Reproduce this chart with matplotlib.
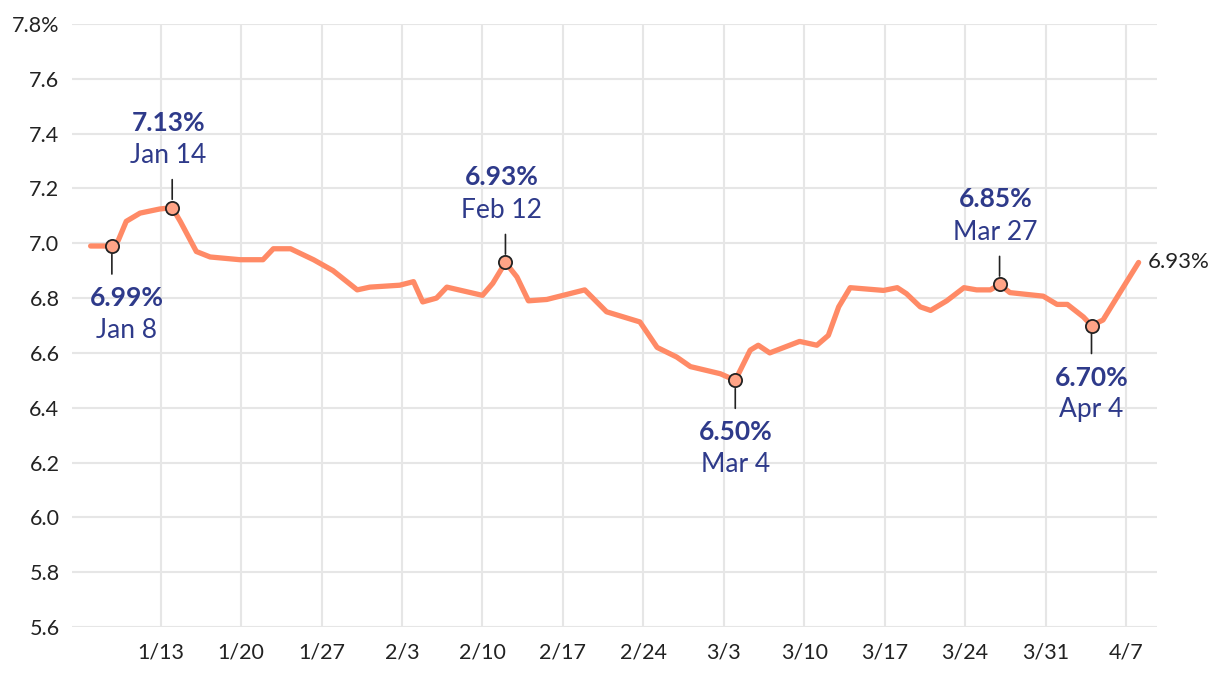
import numpy as np
import matplotlib.pyplot as plt

plt.rcParams['font.family'] = ['Lato', 'DejaVu Sans']

# x = day of year 2025 (Jan 1 = 1), y = 30-yr fixed rate, %
days = [6.9, 8.75, 9.3, 10.0, 11.2, 12.9, 14.0, 14.7, 16.1, 17.3, 19.9, 21.9, 22.8,
        24.3, 26.3, 28.0, 30.1, 31.2, 33.8, 35.0, 35.8, 37.0, 37.9, 41.0, 41.9,
        43.0, 44.0, 45.0, 46.6, 49.9, 51.8, 54.7, 55.3, 56.2, 57.9, 59.1, 61.7,
        63.0, 64.3, 65.0, 66.0, 68.6, 70.1, 71.1, 72.0, 73.0, 75.9, 77.1, 77.9,
        79.1, 80.0, 81.4, 82.9, 84.0, 85.2, 86.0, 86.9, 89.8, 91.0, 91.9, 93.3,
        94.0, 95.0, 96.5, 98.1]
rates = [6.99, 6.99, 7.01, 7.08, 7.11, 7.125, 7.13, 7.08, 6.97, 6.95, 6.94, 6.94, 6.98,
         6.98, 6.94, 6.90, 6.83, 6.84, 6.847, 6.86, 6.786, 6.80, 6.84, 6.81, 6.854,
         6.93, 6.877, 6.79, 6.795, 6.83, 6.75, 6.713, 6.676, 6.62, 6.585, 6.55, 6.524,
         6.50, 6.61, 6.628, 6.60, 6.642, 6.628, 6.664, 6.768, 6.838, 6.828, 6.838, 6.816,
         6.768, 6.755, 6.79, 6.838, 6.83, 6.83, 6.85, 6.82, 6.807, 6.777, 6.777, 6.731,
         6.70, 6.72, 6.822, 6.93]

# highlighted points
hl_days = [8.75, 14.0, 43.0, 63.0, 86.0, 94.0]
hl_rates = [6.99, 7.13, 6.93, 6.50, 6.85, 6.70]
hl_dates = ['Jan 8', 'Jan 14', 'Feb 12', 'Mar 4', 'Mar 27', 'Apr 4']
hl_side = ['below', 'above', 'above', 'below', 'above', 'below']

tick_days = [13, 20, 27, 34, 41, 48, 55, 62, 69, 76, 83, 90, 97]
tick_labels = ['1/13', '1/20', '1/27', '2/3', '2/10', '2/17', '2/24',
               '3/3', '3/10', '3/17', '3/24', '3/31', '4/7']
yticks = np.round(np.arange(5.6, 7.81, 0.2), 1)

line_col = '#ff8a66'
navy = '#2e3a8a'
ink = '#222222'

fig = plt.figure(figsize=(12.2, 6.78), dpi=100)
ax = fig.add_axes([72/1220, 51/678, 1085/1220, 603/678])

ax.plot(days, rates, color=line_col, lw=3.8, solid_capstyle='round',
        solid_joinstyle='round', zorder=3)
ax.plot(hl_days, hl_rates, 'o', ms=9.5, mfc='#ffa487', mec=ink, mew=1.3, zorder=5)

for d, r, lab, side in zip(hl_days, hl_rates, hl_dates, hl_side):
    sgn = 1 if side == 'above' else -1
    dx = -4 if side == 'above' else 0
    if lab == 'Jan 8':
        dx = 15
    ax.annotate('', xy=(d, r), xytext=(0, sgn*28), textcoords='offset pixels',
                arrowprops=dict(arrowstyle='-', color=ink, lw=1.2,
                                shrinkA=0, shrinkB=6), zorder=4)
    if side == 'above':
        ax.annotate(f'{r:.2f}%', xy=(d, r), xytext=(dx, 85), textcoords='offset pixels',
                    ha='center', va='center', fontsize=19, fontweight='bold', color=navy)
        ax.annotate(lab, xy=(d, r), xytext=(dx, 52), textcoords='offset pixels',
                    ha='center', va='center', fontsize=19, color=navy)
    else:
        ax.annotate(f'{r:.2f}%', xy=(d, r), xytext=(dx, -52), textcoords='offset pixels',
                    ha='center', va='center', fontsize=19, fontweight='bold', color=navy)
        ax.annotate(lab, xy=(d, r), xytext=(dx, -84), textcoords='offset pixels',
                    ha='center', va='center', fontsize=19, color=navy)

# last value label
ax.annotate(f'{rates[-1]:.2f}%', xy=(days[-1], rates[-1]), xytext=(9, 0),
            textcoords='offset pixels', ha='left', va='center', fontsize=16, color=ink)

ax.set_xlim(5.28, 99.7)
ax.set_ylim(5.6, 7.8)
ax.set_xticks(tick_days)
ax.set_xticklabels(tick_labels)
ax.set_yticks(yticks)
ax.set_yticklabels([f'{v:.1f}' for v in yticks[:-1]] + [f'{yticks[-1]:.1f}%'])
ax.tick_params(axis='both', length=0, labelsize=15.5, colors=ink)
ax.tick_params(axis='y', pad=9)
ax.tick_params(axis='x', pad=11)

ax.grid(True, color='#e6e6e6', lw=1.5)
ax.set_axisbelow(True)
for s in ax.spines.values():
    s.set_visible(False)

fig.savefig('out.png', dpi=100)
